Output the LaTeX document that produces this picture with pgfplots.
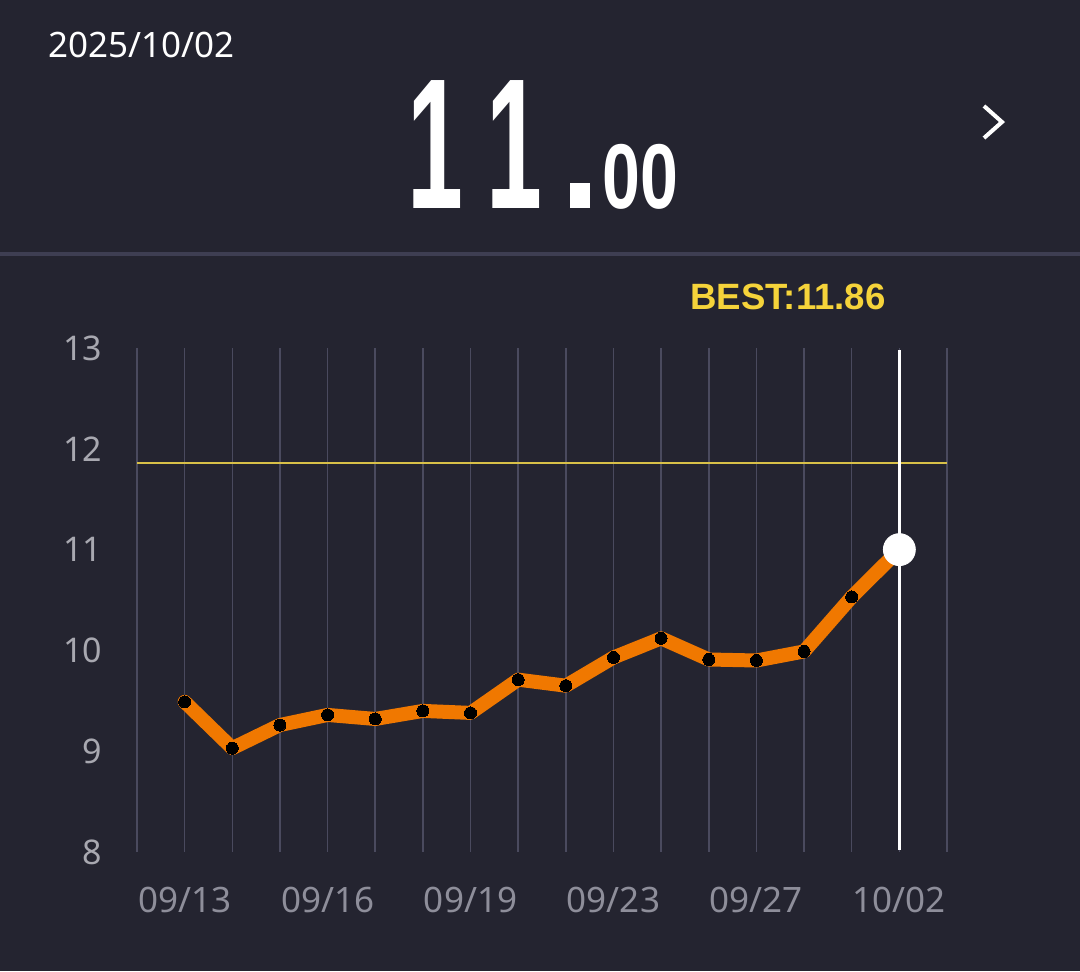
\documentclass[border=0pt]{standalone}
\usepackage{pgfplots}
\pgfplotsset{compat=1.18}
\usepackage{fontspec}
\setmainfont{Noto Sans}
\newfontfamily\bfont{Liberation Sans}
\definecolor{bg}{HTML}{242430}
\definecolor{gridc}{HTML}{4A4A5E}
\definecolor{sepc}{HTML}{3E3E52}
\definecolor{ytick}{HTML}{A8A8B0}
\definecolor{xtick}{HTML}{8E8E9A}
\definecolor{orangeL}{HTML}{F07800}
\definecolor{bestline}{HTML}{D8C048}
\definecolor{besttext}{HTML}{F5D33A}
\begin{document}
\begin{tikzpicture}
\fill[bg] (0,0) rectangle (540pt,-485.5pt);
% header
\node[anchor=base west, text=white, font=\fontsize{17.5pt}{20pt}\selectfont, inner sep=0pt] at (24pt,-28.5pt) {2025/10/02};
\node[anchor=base west, text=white, inner sep=0pt] at (203.5pt,-104pt) {\scalebox{0.54}[1]{\fontsize{93pt}{93pt}\selectfont\bfont\bfseries 1\kern22pt1}};
\fill[white] (285pt,-91.5pt) rectangle (295pt,-104pt);
\node[anchor=base west, text=white, inner sep=0pt] at (301pt,-104pt) {\scalebox{0.74}[1]{\fontsize{46pt}{46pt}\selectfont\bfont\bfseries 00}};
\draw[white, line width=2pt, line cap=butt] (492pt,-53pt) -- (501pt,-61pt) -- (492pt,-69pt);
\fill[sepc] (0,-126pt) rectangle (540pt,-128pt);
% best label
\node[text=besttext, font=\fontsize{18.3pt}{20pt}\selectfont\bfont\bfseries, inner sep=0pt] at (394pt,-148.5pt) {BEST:11.86};
\begin{axis}[
  at={(68.5pt,-426pt)}, anchor=south west,
  scale only axis, width=405pt, height=252pt,
  xmin=-1, xmax=16, ymin=8, ymax=13,
  axis line style={draw=none},
  major tick style={draw=none}, minor tick style={draw=none},
  xtick={0,3,6,9,12,15},
  xticklabels={09/13,09/16,09/19,09/23,09/27,10/02},
  minor xtick={-1,0,...,16},
  xminorgrids=true, xmajorgrids=true,
  grid style={gridc, line width=0.75pt},
  minor grid style={gridc, line width=0.75pt},
  ytick={8,9,10,11,12,13},
  /pgf/number format/assume math mode=true,
  xticklabel style={text=xtick, font=\fontsize{17.5pt}{20pt}\selectfont, yshift=-14pt},
  yticklabel style={text=ytick, font=\fontsize{17pt}{20pt}\selectfont, anchor=east, xshift=-14pt},
  clip=false,
]
\addplot[bestline, line width=1pt] coordinates {(-1,11.86) (16,11.86)};
\addplot[white, line width=1.5pt] coordinates {(15,8.02) (15,12.98)};
\addplot[orangeL, line width=7pt, line join=round, line cap=round,
  mark=*, mark size=3pt, mark options={fill=black, draw=black, line width=0pt}]
  coordinates {
  (0,9.49) (1,9.03) (2,9.26) (3,9.36) (4,9.32) (5,9.40) (6,9.38) (7,9.71)
  (8,9.65) (9,9.93) (10,10.12) (11,9.91) (12,9.90) (13,9.99) (14,10.53)
  };
\addplot[orangeL, line width=7pt, line cap=round] coordinates {(14,10.53) (15,11.00)};
\addplot[only marks, mark=*, mark size=8pt, mark options={fill=white, draw=white}] coordinates {(15,11.00)};
\end{axis}
\end{tikzpicture}
\end{document}
